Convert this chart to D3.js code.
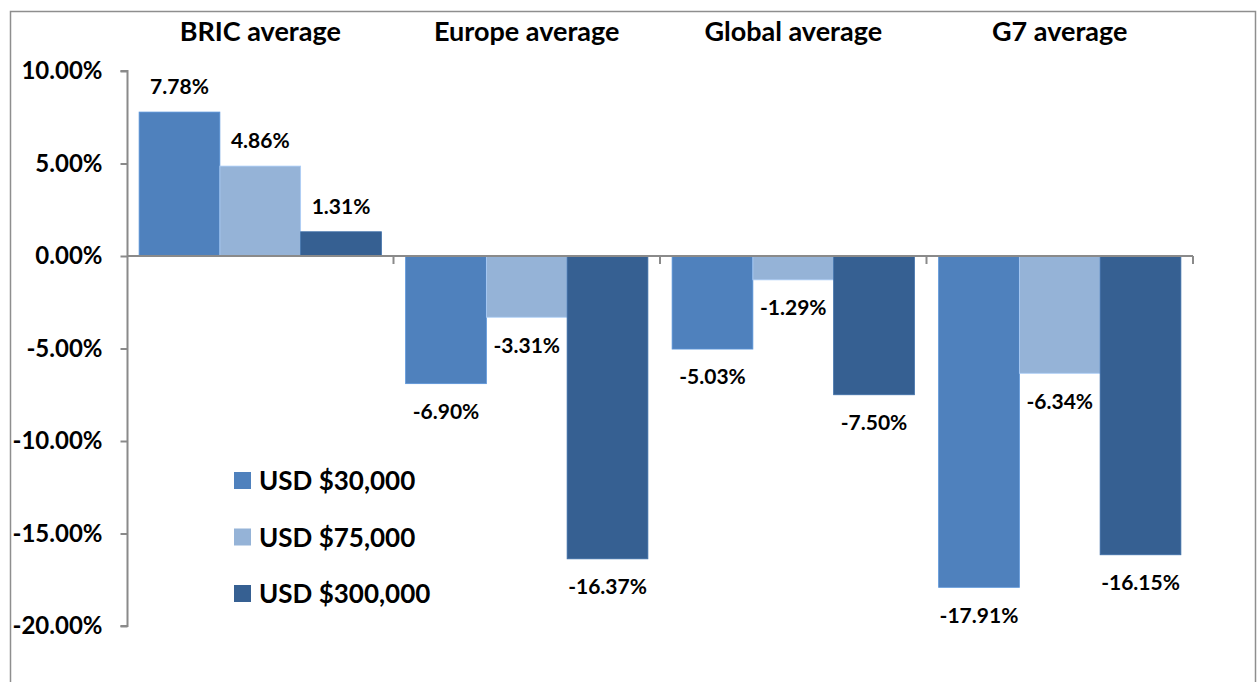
<!DOCTYPE html>
<html>
<head>
<meta charset="utf-8">
<script src="https://cdn.jsdelivr.net/npm/d3@7"></script>
<style>
  body { margin: 0; background: #fff; }
  svg { display: block; font-family: Lato, "Open Sans", sans-serif; font-weight: bold; }
</style>
</head>
<body>
<svg id="chart" width="1257" height="682"></svg>
<script>
// data
const categories = ['BRIC average', 'Europe average', 'Global average', 'G7 average'];
const seriesNames = ['USD $30,000', 'USD $75,000', 'USD $300,000'];
const usd30k = [7.78, -6.90, -5.03, -17.91];
const usd75k = [4.86, -3.31, -1.29, -6.34];
const usd300k = [1.31, -16.37, -7.50, -16.15];
const yTicks = [10, 5, 0, -5, -10, -15, -20];
const colors = ['#4F81BD', '#95B3D7', '#366092'];

const series = [usd30k, usd75k, usd300k];

const svg = d3.select('#chart');

// outer frame
svg.append('rect')
  .attr('x', 10.5).attr('y', 11.5)
  .attr('width', 1245).attr('height', 700)
  .attr('fill', 'none')
  .attr('stroke', '#8e8e8e')
  .attr('stroke-width', 1.5);

const y = d3.scaleLinear().domain([-20, 10]).range([626, 71]);
const x = d3.scaleBand().domain(categories).range([127, 1193]).padding(0);
const xs = d3.scaleBand().domain(d3.range(seriesNames.length))
  .range([0, x.bandwidth()]).paddingInner(0).paddingOuter(0.15);

// y axis
const yAxis = svg.append('g')
  .attr('transform', 'translate(127.5,0)')
  .call(d3.axisLeft(y).tickValues(yTicks).tickSize(7).tickPadding(18)
    .tickFormat(d => d.toFixed(2) + '%'));
yAxis.selectAll('path, line').attr('stroke', '#8a8a8a').attr('stroke-width', 2);
yAxis.select('.domain').attr('d', `M-7,${y(10)}H0V${y(-20)}H-7`);
yAxis.selectAll('text')
  .attr('fill', '#000')
  .style('font-family', 'Lato, sans-serif')
  .style('font-weight', 'bold')
  .style('font-size', '24px');

// bars
const groups = svg.selectAll('.grp')
  .data(categories)
  .enter().append('g')
  .attr('class', 'grp')
  .attr('transform', d => `translate(${x(d)},0)`);

groups.each(function(cat, ci) {
  const g = d3.select(this);
  series.forEach((vals, si) => {
    const v = vals[ci];
    g.append('rect')
      .attr('x', xs(si))
      .attr('width', xs.bandwidth())
      .attr('y', Math.min(y(v), y(0)))
      .attr('height', Math.abs(y(v) - y(0)))
      .attr('fill', colors[si])
      .attr('stroke', d3.color(colors[si]).brighter(0.4))
      .attr('stroke-width', 0.8);
    g.append('text')
      .attr('x', xs(si) + xs.bandwidth() / 2)
      .attr('y', v >= 0 ? y(v) - 25 : y(v) + 28)
      .attr('dy', '0.35em')
      .attr('text-anchor', 'middle')
      .style('font-size', '21px')
      .attr('fill', '#000')
      .text(v.toFixed(2) + '%');
  });
});

// x axis at zero
const xAxis = svg.append('g').attr('transform', `translate(0,${y(0)})`);
xAxis.append('line')
  .attr('x1', 127).attr('x2', 1193)
  .attr('stroke', '#8a8a8a').attr('stroke-width', 2);
xAxis.selectAll('.tk')
  .data(categories.slice(1).map(c => x(c)).concat([x.range()[1]]))
  .enter().append('line')
  .attr('x1', d => d).attr('x2', d => d)
  .attr('y1', 0).attr('y2', 8)
  .attr('stroke', '#8a8a8a').attr('stroke-width', 2);

// category titles
svg.selectAll('.cat')
  .data(categories)
  .enter().append('text')
  .attr('x', d => x(d) + x.bandwidth() / 2)
  .attr('y', 41)
  .attr('text-anchor', 'middle')
  .style('font-size', '27px')
  .attr('fill', '#000')
  .text(d => d);

// legend
const legend = svg.append('g').attr('transform', 'translate(234,472)');
seriesNames.forEach((name, i) => {
  const row = legend.append('g').attr('transform', `translate(0,${i * 56.5})`);
  row.append('rect')
    .attr('width', 17).attr('height', 17)
    .attr('fill', colors[i]);
  row.append('text')
    .attr('x', 25).attr('y', 9)
    .attr('dy', '0.35em')
    .style('font-size', '26px')
    .attr('fill', '#000')
    .text(name);
});
</script>
</body>
</html>
